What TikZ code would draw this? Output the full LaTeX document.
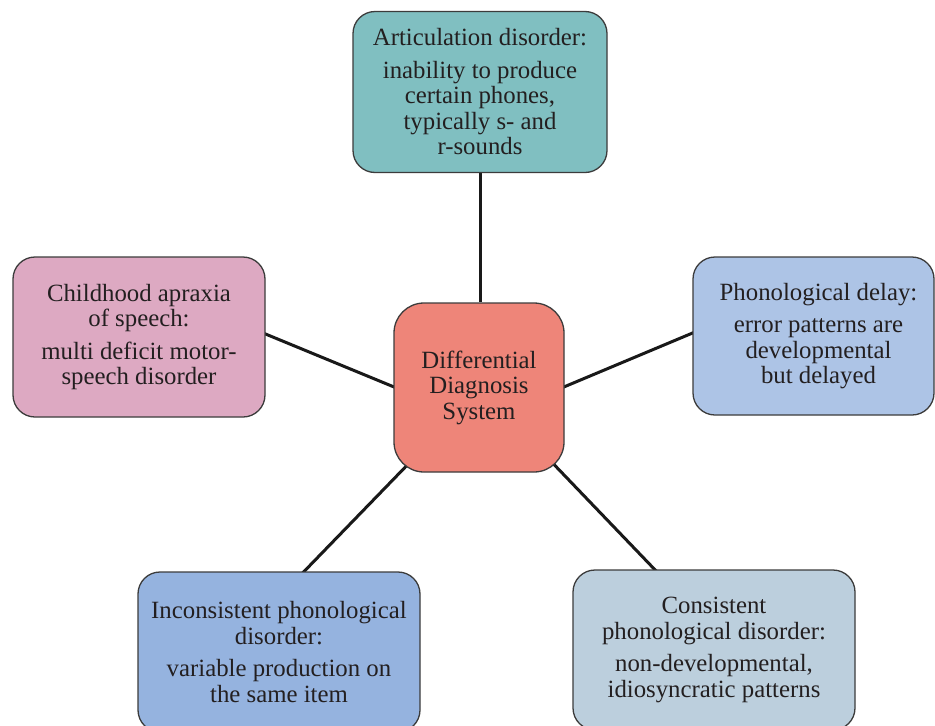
\documentclass[tikz,border=0pt]{standalone}
\usepackage{fontspec}
\setmainfont{Liberation Serif}
\usetikzlibrary{backgrounds}
\definecolor{cteal}{HTML}{80BFC1}
\definecolor{cpink}{HTML}{DDA9C2}
\definecolor{csalmon}{HTML}{EE8579}
\definecolor{clblue}{HTML}{ADC4E6}
\definecolor{cblue}{HTML}{95B3DF}
\definecolor{cgrey}{HTML}{BCCFDD}
\definecolor{cborder}{HTML}{3C3C3C}
\definecolor{ctext}{HTML}{231F20}
\tikzset{
  box/.style={draw=cborder, line width=1.3pt, rounded corners=22pt, align=center,
    text=ctext, inner sep=0pt,
    font=\fontsize{24.8pt}{25.5pt}\selectfont},
  link/.style={draw=black!90, line width=3pt}
}
\begin{document}
\begin{tikzpicture}[x=1pt,y=-1pt]
\useasboundingbox (0,0) rectangle (935,726);
\node[box, fill=cteal, minimum width=254pt, minimum height=161pt] (tb) at (480,92)
  {Articulation disorder:\\[7pt]inability to produce\\certain phones,\\typically s- and\\r-sounds};
\node[box, fill=cpink, minimum width=252pt, minimum height=160pt] (lb) at (139,337)
  {Childhood apraxia\\of speech:\\[7pt]multi deficit motor-\\speech disorder};
\node[box, fill=csalmon, minimum width=170pt, minimum height=169pt, rounded corners=30pt] (cen) at (479,387.5)
  {Differential\\Diagnosis\\System};
\node[box, fill=clblue, minimum width=241pt, minimum height=158pt] (rb) at (813.5,336)
  {\hspace*{10pt}Phonological delay:\\[7pt]\hspace*{10pt}error patterns are\\\hspace*{10pt}developmental\\\hspace*{10pt}but delayed};
\node[box, fill=cblue, minimum width=282pt, minimum height=160pt] (blb) at (279,652)
  {Inconsistent phonological\\disorder:\\[7pt]variable production on\\the same item};
\node[box, fill=cgrey, minimum width=282pt, minimum height=160pt] (brb) at (714,650)
  {Consistent\\phonological disorder:\\[7pt]non-developmental,\\idiosyncratic patterns};
\begin{scope}[on background layer]
  \fill[white] (0,0) rectangle (935,726);
  \draw[link] (tb.south) -- (tb.south |- cen.north);
  \draw[link] ([xshift=-5pt,yshift=5pt]lb.east) -- ([xshift=8pt,yshift=-2.5pt]cen.west);
  \draw[link] ([xshift=-8pt,yshift=-2.5pt]cen.east) -- ([xshift=5pt,yshift=5pt]rb.west);
  \draw[link] ([xshift=23pt,yshift=17pt]cen.south west) -- ([xshift=162pt,yshift=-5pt]blb.north west);
  \draw[link] ([xshift=-22pt,yshift=20pt]cen.south east) -- ([xshift=87pt,yshift=-5pt]brb.north west);
\end{scope}
\end{tikzpicture}
\end{document}
